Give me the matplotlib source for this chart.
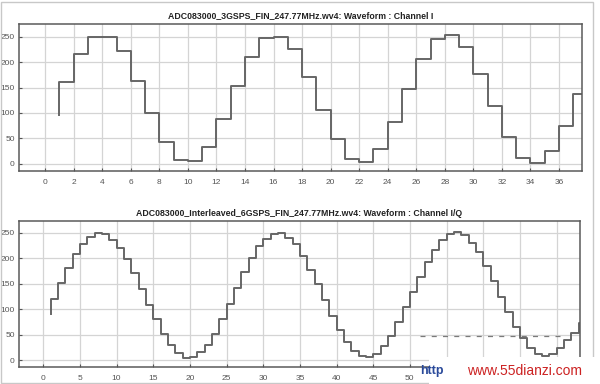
import numpy as np
import matplotlib
matplotlib.use("Agg")
import matplotlib.pyplot as plt
from matplotlib.patches import Rectangle
from matplotlib.lines import Line2D

plt.rcParams["font.family"] = ["Liberation Sans", "DejaVu Sans"]

# --- data: 3 GSPS channel I (one sample per unit)
top_x = list(range(1, 39))
top_y = [96, 160, 216, 249, 250, 221, 163, 100, 42, 8, 5, 34, 88, 153,
         210, 248, 250, 225, 170, 106, 48, 9, 3, 29, 82, 147, 206, 245,
         253, 229, 177, 113, 53, 12, 1, 26, 75, 138]
top_ticks = list(range(0, 37, 2))

# --- data: interleaved 6 GSPS channel I/Q
bot_x = list(range(1, 76))
bot_y = [90, 120, 151, 181, 208, 229, 242, 250, 248, 237, 221, 199, 171,
         140, 108, 80, 51, 29, 13, 5, 7, 15, 30, 52, 80, 110, 142, 174,
         200, 225, 238, 248, 249, 240, 228, 204, 178, 149, 118, 87, 59,
         35, 17, 8, 6, 12, 27, 48, 74, 104, 134, 163, 193, 217, 236, 247,
         251, 245, 230, 212, 185, 156, 124, 95, 66, 44, 24, 12, 8, 12,
         24, 40, 53, 73, 95]
bot_ticks = list(range(0, 75, 5))
# labels 55..70 are hidden under the watermark in the screenshot
bot_labels = [str(t) if t <= 50 else "" for t in bot_ticks]
y_ticks = [0, 50, 100, 150, 200, 250]

titles = ["ADC083000_3GSPS_FIN_247.77MHz.wv4: Waveform : Channel I",
          "ADC083000_Interleaved_6GSPS_FIN_247.77MHz.wv4: Waveform : Channel I/Q"]

LINE = "#666666"
FRAME = "#5a5a5a"
TXT = "#555555"


def style(ax, xticks, xlim, ylim):
    ax.set_xlim(*xlim)
    ax.set_ylim(*ylim)
    ax.set_xticks(xticks)
    ax.set_yticks(y_ticks)
    ax.grid(color="#d4d4d4", lw=0.9)
    ax.set_axisbelow(True)
    for s in ax.spines.values():
        s.set_color(FRAME)
        s.set_linewidth(1.1)
    ax.tick_params(labelsize=6, colors=TXT, length=2.5, width=0.8,
                   direction="in")
    ax.tick_params(axis="x", pad=6)
    ax.tick_params(axis="y", pad=3)


fig = plt.figure(figsize=(6, 3.84), dpi=100)

ax1 = fig.add_axes([0.0317, 0.5547, 0.938, 0.383])
ax1.plot(top_x, top_y, drawstyle="steps-pre", color=LINE, lw=1.4)
style(ax1, top_ticks, (-1.83, 37.6), (-14, 275))
ax1.set_title(titles[0], fontsize=6.3, fontweight="bold", color="#222222", pad=4)

ax2 = fig.add_axes([0.0317, 0.045, 0.935, 0.379])
ax2.plot(bot_x, bot_y, drawstyle="steps-pre", color=LINE, lw=1.4)
style(ax2, bot_ticks, (-3.3, 73.2), (-13, 273))
ax2.set_xticklabels(bot_labels)
ax2.set_title(titles[1], fontsize=6.3, fontweight="bold", color="#222222", pad=4)

# outer frame of the screenshot
fig.add_artist(Rectangle((0.002, 0.003), 0.987, 0.993, transform=fig.transFigure,
                         fill=False, ec="#c8c8c8", lw=1))

# watermark
wy = 1 - 336 / 384
fig.add_artist(Line2D([0.70, 0.935], [wy, wy], transform=fig.transFigure,
                      color="#7a7a7a", lw=0.9, ls=(0, (4, 5)), zorder=4))
fig.add_artist(Rectangle((0.715, 0.0), 0.285, 0.07, transform=fig.transFigure,
                         fc="white", ec="none", zorder=5))
fig.text(0.70, 0.035, "http", color="#2a4a9a", fontsize=9, fontweight="bold",
         va="center", zorder=6)
fig.text(0.778, 0.035, "www.55dianzi.com", color="#cc2222", fontsize=10,
         va="center", zorder=6)

fig.savefig("out.png", dpi=100)
